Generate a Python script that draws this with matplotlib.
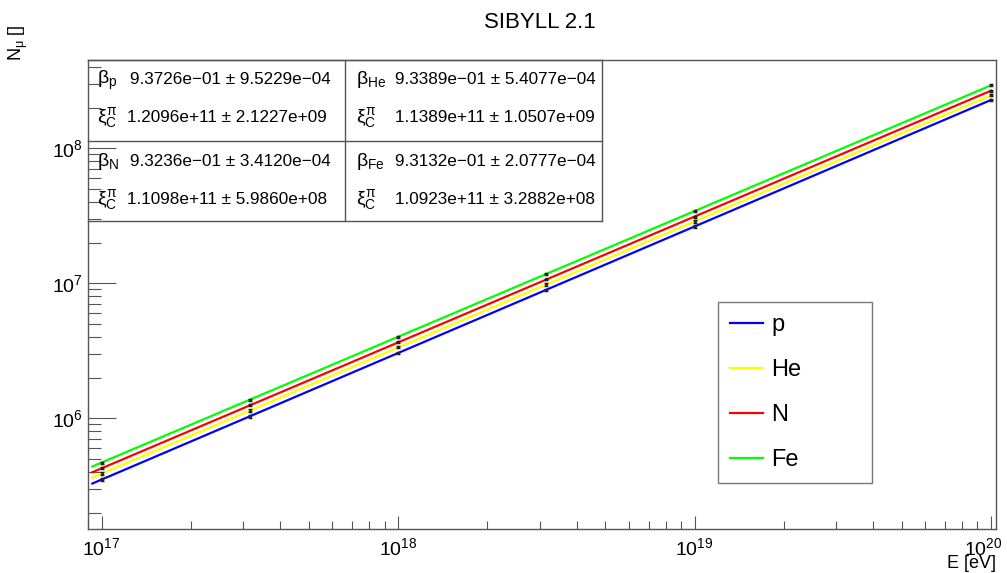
import numpy as np
import matplotlib.pyplot as plt
import matplotlib.transforms as mtransforms
from matplotlib.lines import Line2D
from matplotlib.ticker import LogLocator, LogFormatterMathtext

plt.rcParams['font.family'] = ['Liberation Sans', 'DejaVu Sans']
plt.rcParams['mathtext.fontset'] = 'custom'
plt.rcParams['mathtext.rm'] = 'Liberation Sans'
plt.rcParams['mathtext.it'] = 'Liberation Sans'
plt.rcParams['mathtext.bf'] = 'Liberation Sans:bold'

# simulated points
energy = [1e17, 3.162e17, 1e18, 3.162e18, 1e19, 1e20]
nmu_p = [3.52e5, 1.035e6, 3.04e6, 8.95e6, 2.635e7, 2.28e8]
nmu_he = [3.89e5, 1.14e6, 3.35e6, 9.80e6, 2.87e7, 2.47e8]
nmu_n = [4.26e5, 1.25e6, 3.65e6, 1.067e7, 3.12e7, 2.67e8]
nmu_fe = [4.70e5, 1.37e6, 4.02e6, 1.173e7, 3.43e7, 2.93e8]
err_p = [8e3, 2.2e4, 6e4, 1.8e5, 5e5, 4.5e6]
err_he = [8e3, 2.2e4, 6e4, 1.8e5, 5e5, 4.5e6]
err_n = [8e3, 2.2e4, 6e4, 1.8e5, 5e5, 4.5e6]
err_fe = [8e3, 2.2e4, 6e4, 1.8e5, 5e5, 4.5e6]

# fit results
labels = ["p", "He", "N", "Fe"]
mass = [1, 4, 14, 56]
beta = [9.3726e-01, 9.3389e-01, 9.3236e-01, 9.3132e-01]
beta_err = ["9.5229e\u221204", "5.4077e\u221204", "3.4120e\u221204", "2.0777e\u221204"]
xi = [1.2096e+11, 1.1389e+11, 1.1098e+11, 1.0923e+11]
xi_err = ["2.1227e+09", "1.0507e+09", "5.9860e+08", "3.2882e+08"]
colors = ["#0000ff", "#ffff00", "#ff0000", "#00ff00"]

fit_range = [9.3e16, 1e20]

fig = plt.figure(figsize=(10.07, 5.73), dpi=100)
ax = fig.add_axes([88/1007, 1-529/573, (996-88)/1007, (529-60)/573])
ax.set_xscale('log')
ax.set_yscale('log')
ax.set_xlim(10**16.954, 10**20.017)
ax.set_ylim(10**5.18, 10**8.654)

all_pts = [nmu_p, nmu_he, nmu_n, nmu_fe]
all_err = [err_p, err_he, err_n, err_fe]
for i in range(4):
    e = np.array(fit_range)
    fit = mass[i]**(1-beta[i]) * (e/xi[i])**beta[i]
    ax.plot(e, fit, color=colors[i], lw=1.6, zorder=2)
    ax.errorbar(energy, all_pts[i], yerr=all_err[i], fmt='o', ms=1.4,
                color='#222222', ecolor='#222222', elinewidth=0.7, capsize=1.5, zorder=3)

for s in ax.spines.values():
    s.set_color('#555555')
    s.set_linewidth(1)

ax.xaxis.set_major_locator(LogLocator(base=10))
ax.yaxis.set_major_locator(LogLocator(base=10))
ax.xaxis.set_minor_locator(LogLocator(base=10, subs=np.arange(2, 10)))
ax.yaxis.set_minor_locator(LogLocator(base=10, subs=np.arange(2, 10)))
ax.xaxis.set_major_formatter(LogFormatterMathtext())
ax.yaxis.set_major_formatter(LogFormatterMathtext())
ax.xaxis.set_minor_formatter(plt.NullFormatter())
ax.yaxis.set_minor_formatter(plt.NullFormatter())
ax.tick_params(axis='x', which='major', direction='in', length=9.5, width=0.8, color='#555555',
               labelsize=14, pad=6, top=False)
ax.tick_params(axis='x', which='minor', direction='in', length=5.5, width=0.8, color='#555555', top=False)
ax.tick_params(axis='y', which='major', direction='in', length=20, width=0.8, color='#555555',
               labelsize=14, pad=4, right=False)
ax.tick_params(axis='y', which='minor', direction='in', length=9.5, width=0.8, color='#555555', right=False)

# pull the last x label (10^20) a bit left so it stays inside the canvas
fig.canvas.draw()
for lab in ax.get_xticklabels():
    if lab.get_position()[0] >= 9e19:
        lab.set_transform(lab.get_transform() +
                          mtransforms.ScaledTranslation(-8/100, 0, fig.dpi_scale_trans))

fig.text(996/1007, 1-563/573, "E [eV]", ha='right', va='center', fontsize=13)
fig.text(18/1007, 1-24/573, "N$_{\\mu}$ []", ha='center', va='top', rotation=90, fontsize=13)
fig.text(540/1007, 1-22/573, "SIBYLL 2.1", ha='center', va='center', fontsize=16)

# fit parameter table
tx0, tx1, tx2 = 88, 345, 602
ty0, ty1, ty2 = 60, 141, 221
def fx(px):
    return px/1007
def fy(py):
    return 1 - py/573
for x0, y0, x1, y1 in [(tx0, ty0, tx2, ty0), (tx0, ty1, tx2, ty1), (tx0, ty2, tx2, ty2),
                       (tx1, ty0, tx1, ty2), (tx2, ty0, tx2, ty2)]:
    fig.add_artist(Line2D([fx(x0), fx(x1)], [fy(y0), fy(y1)], color='#555555', lw=1))

cells = [(97, 80), (356, 80), (97, 162), (356, 162)]
for i, (cx, cy) in enumerate(cells):
    fig.text(fx(cx), fy(cy), "$\\beta_{\\mathrm{%s}}$" % labels[i], ha='left', va='center', fontsize=14)
    boff = 33 if i % 2 == 0 else 39
    fig.text(fx(cx + boff), fy(cy), ("%.4e" % beta[i]).replace("-", "\u2212") + " \u00b1 " + beta_err[i],
             ha='left', va='center', fontsize=12.3)
    fig.text(fx(cx), fy(cy + 38), "$\\xi_{\\mathrm{C}}^{\\pi}$", ha='left', va='center', fontsize=14)
    off = 30 if i % 2 == 0 else 39
    fig.text(fx(cx + off), fy(cy + 38), ("%.4e" % xi[i]) + " \u00b1 " + xi_err[i],
             ha='left', va='center', fontsize=12.3)

handles = [Line2D([], [], color=c, lw=1.6) for c in colors]
leg = ax.legend(handles, labels, loc='upper left',
                bbox_to_anchor=(718/1007, 1-481/573, (872-718)/1007, (481-302)/573),
                bbox_transform=fig.transFigure, mode='expand', fontsize=17, frameon=True,
                fancybox=False, handlelength=1.4, handletextpad=0.35, labelspacing=0.98,
                borderpad=0.5, borderaxespad=0)
leg.get_frame().set_edgecolor('#555555')
leg.get_frame().set_linewidth(1)

fig.savefig("out.png", dpi=100)
